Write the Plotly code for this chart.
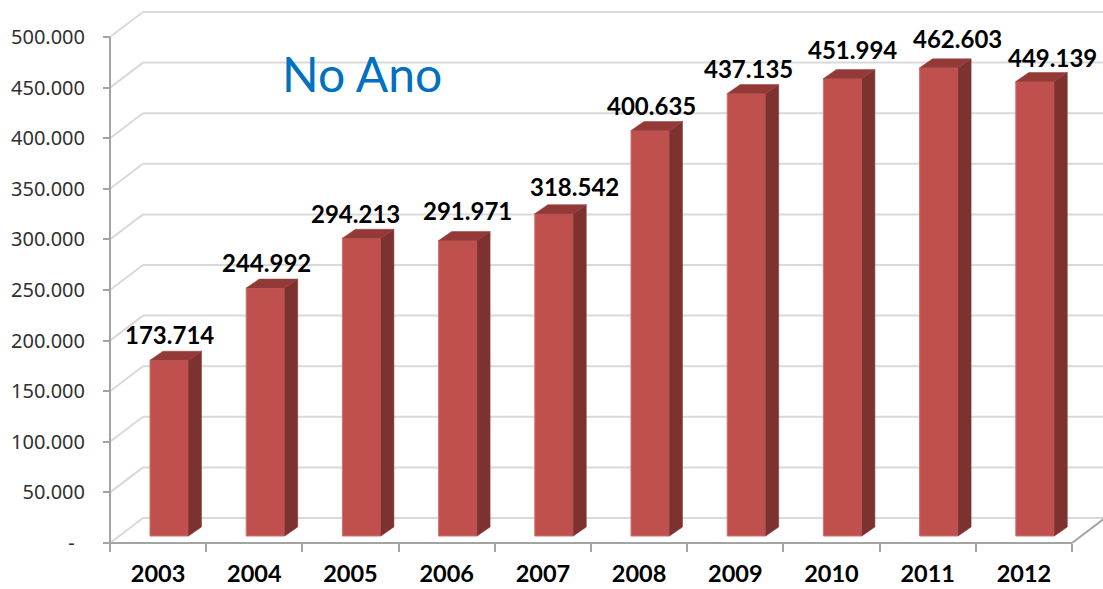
import plotly.graph_objects as go

years = ["2003", "2004", "2005", "2006", "2007", "2008", "2009", "2010", "2011", "2012"]
values = [173714, 244992, 294213, 291971, 318542, 400635, 437135, 451994, 462603, 449139]
y_ticks = [0, 50000, 100000, 150000, 200000, 250000, 300000, 350000, 400000, 450000, 500000]
y_tick_text = ["-\u00a0\u00a0", "50.000", "100.000", "150.000", "200.000", "250.000",
               "300.000", "350.000", "400.000", "450.000", "500.000"]
# hand placed label nudges from the reference (pixels)
label_dx = [0, 1, -6, 10, 20, 1, 2, 10, 19, 17]
label_dy = [0, 0, 1, -4, -1, 1, 1, -3, -3, 2]

W, H = 1103, 589
L, B = 110, 46
STEP_X = 96.2                        # pixels per category
PX_500K = 506                        # pixels from 0 to 500.000
px_x = 1 / STEP_X
px_y = 500000 / PX_500K
x_min, x_max = -L * px_x, (W - L) * px_x
y_min, y_max = -B * px_y, (H - B) * px_y

wall_dx, wall_dy = 33 * px_x, 25 * px_y
bar_dx, bar_dy = 13 * px_x, 9 * px_y
bar_left, bar_w = 40 * px_x, 38.5 * px_x
bar_base = 7 * px_y

FRONT, SIDE, TOP = "#C0504D", "#7D3230", "#933A38"
GRID, AXIS = "#D9D9D9", "#A3A3A3"


def seg(x0, y0, x1, y1, color):
    return dict(type="line", xref="x", yref="y", x0=x0, y0=y0, x1=x1, y1=y1,
                layer="below", line=dict(color=color, width=2))


shapes = []
for v in y_ticks:
    shapes.append(seg(0, v, wall_dx, v + wall_dy, GRID))
    shapes.append(seg(wall_dx, v + wall_dy, 10 + wall_dx, v + wall_dy, GRID))
shapes.append(seg(10, 0, 10 + wall_dx, wall_dy, AXIS))
shapes.append(seg(0, 0, 0, 500000, AXIS))
shapes.append(seg(0, 0, 10, 0, AXIS))

fig = go.Figure()
xs = [i + bar_left + bar_w / 2 for i in range(len(values))]

# front faces
fig.add_trace(go.Bar(x=xs, y=values, base=[bar_base] * len(values), width=bar_w,
                     marker=dict(color=FRONT, line=dict(color="#D0716E", width=1)),
                     showlegend=False))

# side and top faces
for i, v in enumerate(values):
    x0 = i + bar_left
    x1 = x0 + bar_w
    ytop = v + bar_base
    fig.add_trace(go.Scatter(
        x=[x1, x1 + bar_dx, x1 + bar_dx, x1, x1],
        y=[bar_base, bar_base + bar_dy, ytop + bar_dy, ytop, bar_base],
        mode="lines", fill="toself", fillcolor=SIDE, line=dict(color=SIDE, width=0.5),
        hoverinfo="skip", showlegend=False))
    fig.add_trace(go.Scatter(
        x=[x0, x1, x1 + bar_dx, x0 + bar_dx, x0],
        y=[ytop, ytop, ytop + bar_dy, ytop + bar_dy, ytop],
        mode="lines", fill="toself", fillcolor=TOP, line=dict(color=TOP, width=0.5),
        hoverinfo="skip", showlegend=False))

annotations = [
    dict(x=x, y=v + bar_base, xref="x", yref="y", text=v_text, showarrow=False,
         xanchor="center", yanchor="middle", xshift=dx, yshift=26 - dy,
         font=dict(family="Lato", size=24, color="#000000", weight="bold"))
    for x, v, v_text, dx, dy in zip(
        xs, values, [f"{v:,}".replace(",", ".") for v in values], label_dx, label_dy)
]
annotations.append(dict(
    x=362 / W, y=1 - 74 / H, xref="paper", yref="paper", text="No Ano",
    showarrow=False, xanchor="center", yanchor="middle",
    font=dict(family="Lato", size=48, color="#0070C0")))

fig.update_layout(
    width=W, height=H, margin=dict(l=0, r=0, t=0, b=0, autoexpand=False),
    paper_bgcolor="#FFFFFF", plot_bgcolor="#FFFFFF", showlegend=False,
    annotations=annotations, shapes=shapes,
    xaxis=dict(range=[x_min, x_max], anchor="free", position=B / H,
               tickmode="array", tickvals=[i + 0.5 for i in range(10)],
               ticktext=years, ticks="", showgrid=False, zeroline=False, showline=False,
               tickfont=dict(family="Lato", size=23.5, color="#000000", weight="bold"),
               ticklabelstandoff=14,
               minor=dict(tickmode="array", tickvals=list(range(11)), ticks="outside",
                          ticklen=8, tickwidth=2, tickcolor=AXIS, showgrid=False)),
    yaxis=dict(range=[y_min, y_max], anchor="free", position=L / W,
               tickmode="array", tickvals=y_ticks, ticktext=y_tick_text,
               ticks="outside", ticklen=7, tickwidth=2, tickcolor=AXIS,
               showgrid=False, zeroline=False, showline=False,
               tickfont=dict(family="Noto Sans", size=20, color="#303030"),
               ticklabelstandoff=14),
)

fig.write_html("out.html", config={"displayModeBar": False, "responsive": False},
               post_script="document.body.style.margin='0';document.body.style.overflow='hidden';")
